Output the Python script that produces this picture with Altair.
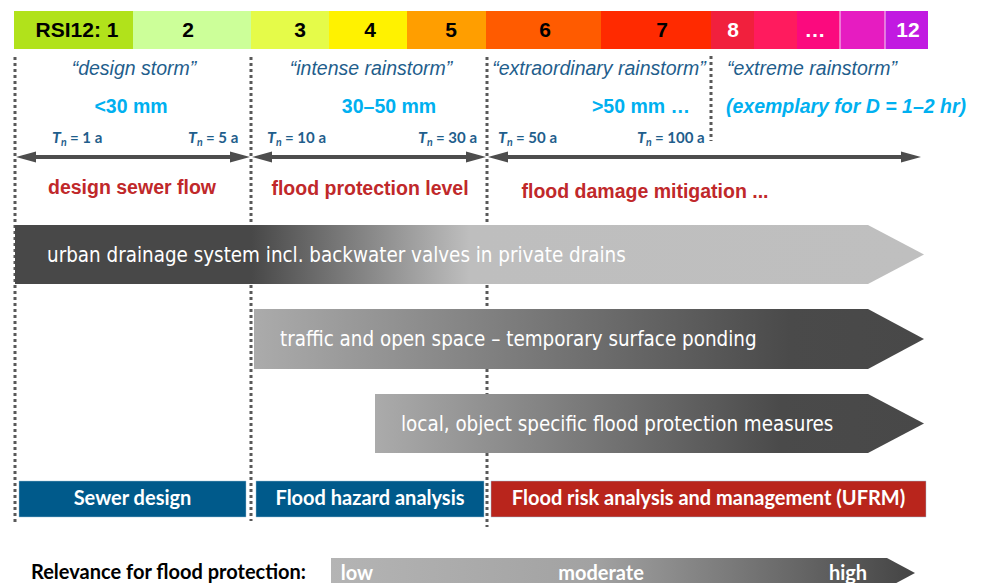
import altair as alt
import pandas as pd

# ---------------- data (diagram coordinates, x to the right, y downwards) ----------------
rsi_start = [14, 133, 251, 329, 407, 486, 601, 711, 754, 797, 840, 885]
rsi_end = [133, 251, 329, 407, 486, 601, 711, 754, 797, 840, 885, 928]
rsi_fill = ["#B1E21B", "#CCFF99", "#E5FB49", "#FFF200", "#FF9E00", "#FF5B00",
            "#FF2A00", "#F1203D", "#FF1B5E", "#FB0A7E", "#E61CC1", "#C11AE1"]
rsi_gaps = [840, 885]
rsi_labels = ["RSI12: 1", "2", "3", "4", "5", "6", "7", "8", "…", "12"]
rsi_label_pos = [77, 188, 300, 370, 451, 545, 662, 733, 815, 908]
rsi_label_col = ["#000000"] * 7 + ["#FFFFFF"] * 3

divider_x = [15, 251, 487, 711]
divider_top = [57, 57, 57, 56]
divider_bottom = [525, 521, 527, 141]

storm_names = ["“design storm”", "“intense rainstorm”",
               "“extraordinary rainstorm”", "“extreme rainstorm”"]
storm_pos = [134, 371, 599, 812]

depth_labels = ["<30 mm", "30–50 mm", ">50 mm …"]
depth_pos = [131, 389, 641]
depth_note = ["(exemplary for D = 1–2 hr)"]
depth_note_pos = [846]

tn_values = ["= 1 a", "= 5 a", "= 10 a", "= 30 a", "= 50 a", "= 100 a"]
tn_pos = [52, 188, 267, 418, 498, 637]

span_start = [15, 251, 487]
span_end = [251, 487, 922]

goal_labels = ["design sewer flow", "flood protection level", "flood damage mitigation ..."]
goal_pos = [132, 370, 645]
goal_level = [188, 189, 192]

measure_labels = ["urban drainage system incl. backwater valves in private drains",
                  "traffic and open space – temporary surface ponding",
                  "local, object specific flood protection measures"]
measure_start = [15, 254, 375]
measure_top = [225, 309, 394]
measure_bottom = [284, 369, 453]
measure_body_end = 868
measure_tip = 924
measure_text_pos = [47, 280, 401]

method_labels = ["Sewer design", "Flood hazard analysis",
                 "Flood risk analysis and management (UFRM)"]
method_start = [19, 256, 491]
method_end = [246, 484, 926]
method_fill = ["#005A8B", "#005A8B", "#B9251C"]

relevance_title = ["Relevance for flood protection:"]
relevance_levels = ["low", "moderate", "high"]
relevance_pos = [357, 601, 848]

# ---------------- scales ----------------
xs = alt.Scale(domain=[8, 975], nice=False, zero=False)
ys = alt.Scale(domain=[8, 583], nice=False, zero=False, reverse=True)


def X(f):
    return alt.X(f, type="quantitative", scale=xs, axis=None)


def Y(f):
    return alt.Y(f, type="quantitative", scale=ys, axis=None)


ARIAL = "Liberation Sans"
CALIBRI = "Lato"
NARROW = "Liberation Sans Narrow, DejaVu Sans Condensed, Liberation Sans"
BLUE_TXT = "#1F5E8C"
CYAN = "#00B0F0"
RED_TXT = "#C0282A"
DARK = "#4D4D4D"

layers = []

# dotted dividers (behind everything)
div_df = pd.DataFrame({"x": divider_x, "y0": divider_top, "y1": divider_bottom})
layers.append(alt.Chart(div_df).mark_rule(strokeDash=[3, 3], strokeWidth=3, color="#595959")
              .encode(X("x"), Y("y0"), alt.Y2("y1")))

# RSI colour bar
rsi_df = pd.DataFrame({"x0": rsi_start, "x1": rsi_end, "c": rsi_fill})
rsi_df["y0"] = 11
rsi_df["y1"] = 49
layers.append(alt.Chart(rsi_df).mark_rect()
              .encode(X("x0"), alt.X2("x1"), Y("y0"), alt.Y2("y1"),
                      color=alt.Color("c:N", scale=None)))
gap_df = pd.DataFrame({"x": rsi_gaps, "y0": 11, "y1": 49})
layers.append(alt.Chart(gap_df).mark_rule(color="#F4B8E8", strokeWidth=1.2)
              .encode(X("x"), Y("y0"), alt.Y2("y1")))
rl_df = pd.DataFrame({"x": rsi_label_pos, "t": rsi_labels, "c": rsi_label_col})
rl_df["y"] = 31
layers.append(alt.Chart(rl_df).mark_text(font=ARIAL, fontWeight="bold", fontSize=21, baseline="middle")
              .encode(X("x"), Y("y"), text="t:N", color=alt.Color("c:N", scale=None)))

# storm names
sn_df = pd.DataFrame({"x": storm_pos, "t": storm_names})
sn_df["y"] = 69
layers.append(alt.Chart(sn_df).mark_text(font=ARIAL, fontStyle="italic", fontSize=19.5,
                                         color=BLUE_TXT, baseline="middle")
              .encode(X("x"), Y("y"), text="t:N"))

# depth labels
dp_df = pd.DataFrame({"x": depth_pos, "t": depth_labels})
dp_df["y"] = 107
layers.append(alt.Chart(dp_df).mark_text(font=ARIAL, fontWeight="bold", fontSize=19.5,
                                         color=CYAN, baseline="middle")
              .encode(X("x"), Y("y"), text="t:N"))
dn_df = pd.DataFrame({"x": depth_note_pos, "t": depth_note})
dn_df["y"] = 107
layers.append(alt.Chart(dn_df).mark_text(font=ARIAL, fontWeight="bold", fontStyle="italic",
                                         fontSize=19.5, color=CYAN, baseline="middle")
              .encode(X("x"), Y("y"), text="t:N"))

# return periods T_n
tn_df = pd.DataFrame({"x": tn_pos, "t": tn_values})
tn_df["T"] = "T"
tn_df["n"] = "n"
tn_df["y"] = 138
tn_df["ys"] = 143
tn_df["xn"] = tn_df["x"] + 9
tn_df["xr"] = tn_df["x"] + 18
tn_base = alt.Chart(tn_df)
layers.append(tn_base.mark_text(font=CALIBRI, fontWeight="bold", fontStyle="italic", fontSize=16,
                                color=BLUE_TXT, align="left", baseline="middle")
              .encode(X("x"), Y("y"), text="T:N"))
layers.append(tn_base.mark_text(font=CALIBRI, fontWeight="bold", fontStyle="italic", fontSize=10.5,
                                color=BLUE_TXT, align="left", baseline="middle")
              .encode(X("xn"), Y("ys"), text="n:N"))
layers.append(tn_base.mark_text(font=CALIBRI, fontWeight="bold", fontSize=15,
                                color=BLUE_TXT, align="left", baseline="middle")
              .encode(X("xr"), Y("y"), text="t:N"))

# thin double arrows
sh_df = pd.DataFrame({"x0": [s + 8 for s in span_start], "x1": [e - 8 for e in span_end]})
sh_df["y"] = 157
layers.append(alt.Chart(sh_df).mark_rule(color=DARK, strokeWidth=4)
              .encode(X("x0"), alt.X2("x1"), Y("y")))
heads = []
k = 0
for s, e in zip(span_start, span_end):
    for tip, base in ((s + 1, s + 21), (e - 1, e - 21)):
        heads.append({"id": k, "x": tip, "y": 157, "y2": 157})
        heads.append({"id": k, "x": base, "y": 151.5, "y2": 162.5})
        k += 1
hd_df = pd.DataFrame(heads)
layers.append(alt.Chart(hd_df).mark_area(color=DARK)
              .encode(X("x"), Y("y"), alt.Y2("y2"), detail="id:N"))

# goal labels (red)
gl_df = pd.DataFrame({"x": goal_pos, "y": goal_level, "t": goal_labels})
layers.append(alt.Chart(gl_df).mark_text(font=ARIAL, fontWeight="bold", fontSize=19.5,
                                         color=RED_TXT, baseline="middle")
              .encode(X("x"), Y("y"), text="t:N"))

# big gradient arrows
grads = [
    [("#484848", 0.0), ("#484848", 0.26), ("#BEBEBE", 0.5), ("#BFBFBF", 1.0)],
    [("#ABABAB", 0.0), ("#4A4A4A", 0.8), ("#484848", 1.0)],
    [("#ABABAB", 0.0), ("#4A4A4A", 0.74), ("#484848", 1.0)],
]
for i in range(3):
    mid = (measure_top[i] + measure_bottom[i]) / 2
    a_df = pd.DataFrame({"x": [measure_start[i], measure_body_end, measure_tip],
                         "y": [measure_top[i], measure_top[i], mid],
                         "y2": [measure_bottom[i], measure_bottom[i], mid]})
    g = alt.LinearGradient(gradient="linear", x1=0, x2=1, y1=0, y2=0,
                           stops=[alt.GradientStop(color=c, offset=o) for c, o in grads[i]])
    layers.append(alt.Chart(a_df).mark_area(fill=g)
                  .encode(X("x"), Y("y"), alt.Y2("y2")))
mt_df = pd.DataFrame({"x": measure_text_pos, "t": measure_labels,
                      "y": [(a + b) / 2 + 1 for a, b in zip(measure_top, measure_bottom)]})
layers.append(alt.Chart(mt_df).mark_text(font=NARROW, fontSize=20.4, color="#FFFFFF",
                                         align="left", baseline="middle")
              .encode(X("x"), Y("y"), text="t:N"))

# method bars
mb_df = pd.DataFrame({"x0": method_start, "x1": method_end, "c": method_fill, "t": method_labels})
mb_df["y0"] = 481
mb_df["y1"] = 517
mb_df["xc"] = (mb_df["x0"] + mb_df["x1"]) / 2
mb_df["yc"] = 499
layers.append(alt.Chart(mb_df).mark_rect(stroke="#9FC3D6", strokeWidth=0.8, strokeOpacity=0.6)
              .encode(X("x0"), alt.X2("x1"), Y("y0"), alt.Y2("y1"),
                      color=alt.Color("c:N", scale=None)))
layers.append(alt.Chart(mb_df).mark_text(font=CALIBRI, fontWeight="bold", fontSize=20,
                                         color="#FFFFFF", baseline="middle")
              .encode(X("xc"), Y("yc"), text="t:N"))

# relevance legend
rg = alt.LinearGradient(gradient="linear", x1=0, x2=1, y1=0, y2=0,
                        stops=[alt.GradientStop(color="#B4B4B4", offset=0),
                               alt.GradientStop(color="#A2A2A2", offset=0.45),
                               alt.GradientStop(color="#444444", offset=1)])
rv_df = pd.DataFrame({"x": [331, 887, 915], "y": [558, 558, 573], "y2": [588, 588, 573]})
layers.append(alt.Chart(rv_df).mark_area(fill=rg).encode(X("x"), Y("y"), alt.Y2("y2")))
rt_df = pd.DataFrame({"x": [31], "y": [573], "t": relevance_title})
layers.append(alt.Chart(rt_df).mark_text(font=CALIBRI, fontWeight="bold", fontSize=20,
                                         color="#000000", align="left", baseline="middle")
              .encode(X("x"), Y("y"), text="t:N"))
rl2_df = pd.DataFrame({"x": relevance_pos, "t": relevance_levels})
rl2_df["y"] = 574
layers.append(alt.Chart(rl2_df).mark_text(font=CALIBRI, fontWeight="bold", fontSize=20,
                                          color="#FFFFFF", baseline="middle")
              .encode(X("x"), Y("y"), text="t:N"))

chart = (alt.layer(*layers)
         .properties(width=967, height=575, padding=0,
                     autosize=alt.AutoSizeParams(type="none"))
         .configure_view(stroke=None))

chart.save("out.html", embed_options={"renderer": "svg", "actions": False})
